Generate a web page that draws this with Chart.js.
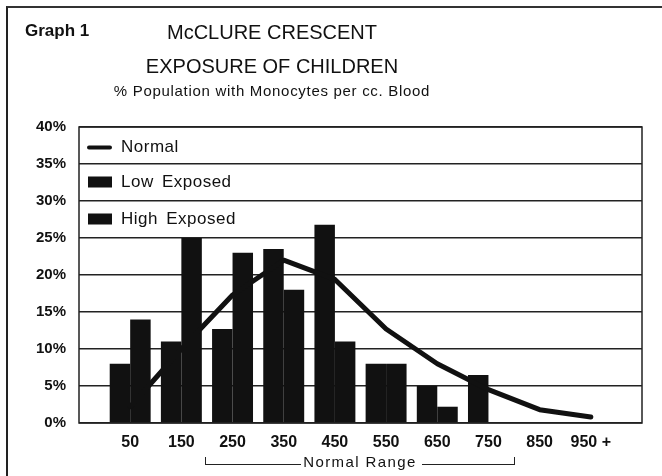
<!DOCTYPE html>
<html>
<head>
<meta charset="utf-8">
<script src="https://cdn.jsdelivr.net/npm/chart.js@4/dist/chart.umd.min.js"></script>
<style>
    body { margin: 0; background: #fff; }
    #wrap { position: relative; width: 662px; height: 476px; overflow: hidden; font-family: "Liberation Sans", Arial, sans-serif; color: #111; }
    #frame { position: absolute; left: 6px; top: 6px; width: 700px; height: 500px; border-left: 2px solid #222; border-top: 2px solid #333; }
    .txt { position: absolute; white-space: nowrap; }
    #graphNo { left: 25px; top: 22px; font-size: 17px; line-height: 17px; font-weight: bold; }
    .title { left: 72px; width: 400px; text-align: center; font-size: 20px; line-height: 20px; }
    #t1 { top: 22px; }
    #t2 { top: 56px; }
    #sub { left: 72px; width: 400px; text-align: center; top: 84px; font-size: 15px; line-height: 14px; letter-spacing: 0.7px; }
    #range { left: 205px; width: 310px; top: 455px; height: 14px; }
    #range .lbl { position: absolute; left: 0; width: 310px; text-align: center; font-size: 15px; line-height: 14px; letter-spacing: 1.4px; }
    #range .l { position: absolute; left: 0; width: 95px; top: 2px; height: 7px; border-left: 1px solid #222; border-bottom: 1px solid #222; }
    #range .r { position: absolute; right: 0; width: 92px; top: 2px; height: 7px; border-right: 1px solid #222; border-bottom: 1px solid #222; }
    canvas { position: absolute; left: 0; top: 0; }
</style>
</head>
<body>
<div id="wrap">
    <div id="frame"></div>
    <canvas id="monoChart" width="662" height="476"></canvas>
    <div class="txt" id="graphNo">Graph 1</div>
    <div class="txt title" id="t1">McCLURE CRESCENT</div>
    <div class="txt title" id="t2">EXPOSURE OF CHILDREN</div>
    <div class="txt" id="sub">% Population with Monocytes per cc. Blood</div>
    <div class="txt" id="range"><div class="l"></div><div class="r"></div><div class="lbl">Normal Range</div></div>
</div>
<script>
// monocytes per cc, bin centres
const bins = [50, 150, 250, 350, 450, 550, 650, 750, 850, 950];
const binLabels = ['50', '150', '250', '350', '450', '550', '650', '750', '850', '950 +'];

// % of population in each bin
const normalPct = [2.2, 10, 17.3, 22, 19.4, 12.7, 8, 4.5, 1.8, 0.8];
const lowPct = [8, 11, 12.7, 23.5, 26.8, 8, 5, 6.5, 0, 0];
const highPct = [14, 25, 23, 18, 11, 8, 2.2, 0, 0, 0];

const yTicks = [0, 5, 10, 15, 20, 25, 30, 35, 40];
const legendItems = ['Normal', 'Low Exposed', 'High Exposed'];

const ink = '#111';

function toPoints(values) {
    return bins.map((b, i) => ({x: b, y: values[i]}));
}

// legend sits inside the plot, one item per band at the top
const insideLegend = {
    id: 'insideLegend',
    afterDraw(chart) {
        const {ctx, chartArea, scales} = chart;
        const left = chartArea.left;
        ctx.save();
        // plot box
        ctx.strokeStyle = '#222';
        ctx.lineWidth = 1.5;
        ctx.strokeRect(chartArea.left, chartArea.top, chartArea.right - chartArea.left, chartArea.bottom - chartArea.top);

        ctx.font = '17px "Liberation Sans", Arial, sans-serif';
        ctx.letterSpacing = '0.5px';
        ctx.wordSpacing = '3px';
        ctx.textBaseline = 'middle';
        ctx.fillStyle = ink;
        legendItems.forEach((name, i) => {
            const yMid = scales.y.getPixelForValue(37.5 - i * 5) + (i === 0 ? 2 : 0);
            if (i === 0) {
                ctx.strokeStyle = ink;
                ctx.lineWidth = 4;
                ctx.lineCap = 'round';
                ctx.beginPath();
                ctx.moveTo(left + 10, yMid);
                ctx.lineTo(left + 31, yMid);
                ctx.stroke();
            } else {
                ctx.fillRect(left + 9, yMid - 6, 24, 11);
            }
            ctx.fillText(name, left + 42, yMid);
        });
        ctx.restore();
    }
};

const ctx = document.getElementById('monoChart').getContext('2d');

new Chart(ctx, {
    type: 'bar',
    data: {
        datasets: [
            {
                type: 'line',
                label: 'Normal',
                data: toPoints(normalPct),
                borderColor: ink,
                borderWidth: 5,
                borderCapStyle: 'round',
                borderJoinStyle: 'round',
                pointRadius: 0,
                tension: 0,
                order: 0
            },
            {
                label: 'Low Exposed',
                data: toPoints(lowPct),
                backgroundColor: ink,
                categoryPercentage: 0.8,
                barPercentage: 1.0,
                order: 1
            },
            {
                label: 'High Exposed',
                data: toPoints(highPct),
                backgroundColor: ink,
                categoryPercentage: 0.8,
                barPercentage: 1.0,
                order: 1
            }
        ]
    },
    options: {
        responsive: false,
        animation: false,
        layout: {
            padding: {left: 6, top: 127, right: 20, bottom: 0}
        },
        plugins: {
            legend: {display: false},
            title: {display: false},
            tooltip: {enabled: false}
        },
        scales: {
            x: {
                type: 'linear',
                min: -50,
                max: 1050,
                offset: false,
                afterFit: scale => { scale.height = 53; },
                grid: {display: false, drawTicks: false},
                border: {display: false},
                ticks: {
                    stepSize: 100,
                    autoSkip: false,
                    maxRotation: 0,
                    padding: 10,
                    color: ink,
                    font: {family: '"Liberation Sans", Arial, sans-serif', size: 16, weight: 'bold'},
                    callback: value => {
                        const i = bins.indexOf(value);
                        return i === -1 ? '' : binLabels[i];
                    }
                }
            },
            y: {
                min: 0,
                max: 40,
                afterFit: scale => { scale.width = 73; },
                afterBuildTicks: scale => { scale.ticks = yTicks.map(v => ({value: v})); },
                grid: {color: '#222', lineWidth: 1.5, drawTicks: false},
                border: {display: false},
                ticks: {
                    padding: 13,
                    color: ink,
                    font: {family: '"Liberation Sans", Arial, sans-serif', size: 15, weight: 'bold'},
                    callback: value => value + '%'
                }
            }
        }
    },
    plugins: [insideLegend]
});
</script>
</body>
</html>
